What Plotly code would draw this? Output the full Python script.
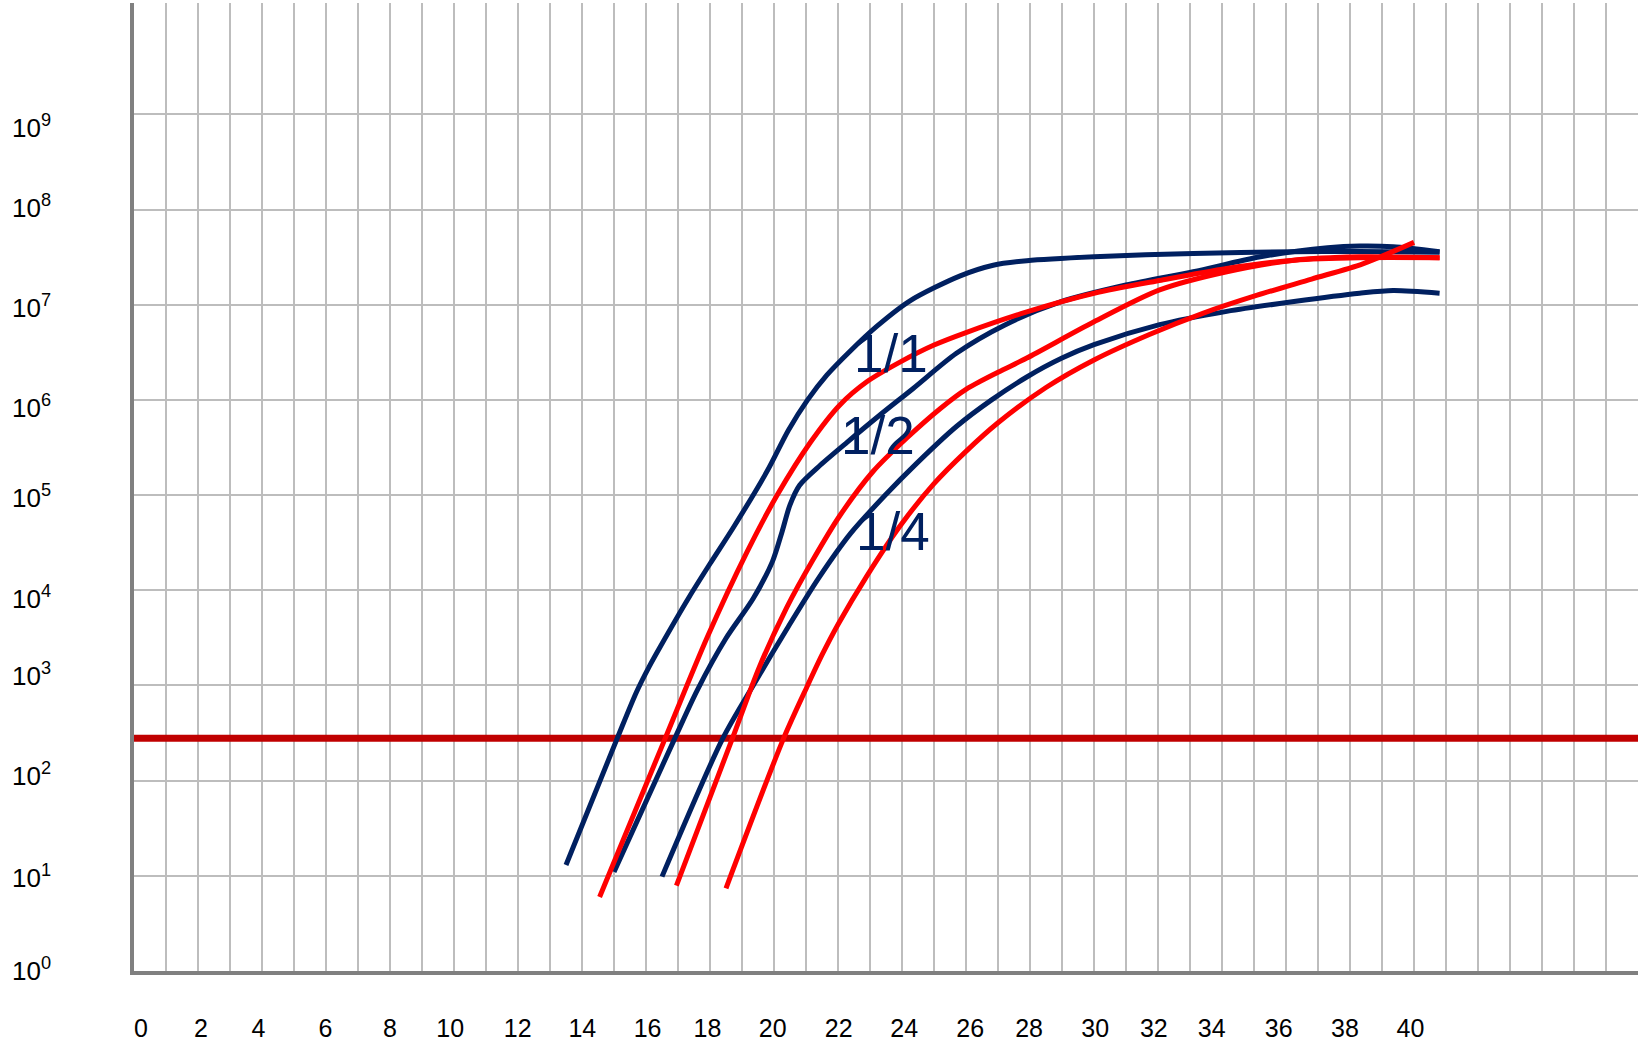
import plotly.graph_objects as go

# ---------------- data (cycle, fluorescence) ----------------
blue_11_x = [13.5, 15.1, 15.7, 16.1, 16.45, 17.35, 18.0, 18.75, 19.8, 20.45, 21.05, 21.65, 22.4, 23.2, 24.25, 25.8, 26.85, 27.9, 30.0, 33.1, 36.2, 38.3, 40.8]
blue_11_y = [13, 278, 850, 1580, 2570, 8510, 1.9e4, 4.68e4, 1.82e5, 4.8e5, 1.0e6, 1.82e6, 3.31e6, 5.89e6, 1.1e7, 2.0e7, 2.6e7, 2.9e7, 3.19e7, 3.46e7, 3.6e7, 3.63e7, 3.55e7]

blue_12_x = [15.0, 16.9, 17.6, 18.5, 19.35, 19.95, 20.25, 20.5, 20.8, 21.45, 22.3, 23.3, 24.35, 25.7, 27.2, 28.95, 31.0, 33.1, 35.2, 37.3, 38.3, 39.35, 40.8]
blue_12_y = [11, 278, 890, 3130, 8200, 2.0e4, 4.1e4, 7.9e4, 1.27e5, 2.07e5, 3.63e5, 6.9e5, 1.32e6, 3.09e6, 6.1e6, 1.07e7, 1.61e7, 2.22e7, 3.19e7, 3.96e7, 4.13e7, 4.06e7, 3.6e7]

blue_14_x = [16.5, 18.4, 19.35, 20.45, 21.4, 22.4, 23.45, 24.45, 25.7, 26.8, 27.9, 29.0, 30.0, 32.05, 34.15, 36.25, 38.3, 39.35, 40.8]
blue_14_y = [9.8, 278, 1000, 4170, 1.35e4, 3.98e4, 9.77e4, 2.14e5, 5.25e5, 1.0e6, 1.74e6, 2.75e6, 3.8e6, 6.17e6, 8.51e6, 1.08e7, 1.32e7, 1.41e7, 1.32e7]

red_11_x = [14.55, 16.6, 17.9, 19.15, 20.1, 21.15, 22.05, 22.9, 23.95, 25.0, 26.0, 27.9, 30.0, 32.1, 34.15, 36.25, 38.3, 40.8]
red_11_y = [6.0, 278, 3130, 2.5e4, 1.0e5, 3.63e5, 8.8e5, 1.55e6, 2.51e6, 3.77e6, 5.1e6, 8.4e6, 1.32e7, 1.81e7, 2.4e7, 2.94e7, 3.12e7, 3.12e7]

red_12_x = [16.95, 18.7, 19.55, 20.4, 21.2, 22.05, 23.1, 24.15, 25.2, 26.0, 27.0, 27.9, 30.0, 32.05, 34.15, 36.25, 38.3, 40.8]
red_12_y = [7.9, 278, 1585, 6610, 2.04e4, 6.03e4, 1.78e5, 3.98e5, 8.13e5, 1.29e6, 1.95e6, 2.75e6, 6.61e6, 1.43e7, 2.22e7, 2.94e7, 3.19e7, 3.12e7]

red_14_x = [18.5, 20.3, 21.05, 21.5, 22.0, 22.9, 23.95, 25.0, 26.0, 27.0, 28.5, 30.0, 31.75, 33.4, 35.1, 36.8, 38.4, 40.0]
red_14_y = [7.4, 278, 1000, 2090, 4370, 1.41e4, 4.79e4, 1.318e5, 2.88e5, 5.75e5, 1.35e6, 2.63e6, 4.9e6, 8.13e6, 1.26e7, 1.86e7, 2.69e7, 4.52e7]

THRESHOLD = 278

x_tick_labels = [str(v) for v in range(0, 41, 2)]
y_tick_labels = ["10<sup>%d</sup>" % k for k in range(0, 10)]
curve_labels = ["1/1", "1/2", "1/4"]

# ---------------- layout / style ----------------
X_RANGE = [0, 47]
Y_RANGE_LOG = [0, 10.17]
x_label_pos = [0.22, 2.09, 3.89, 5.98, 8.0, 9.88, 11.99, 14.01, 16.05, 17.92, 19.96,
               22.02, 24.07, 26.13, 27.97, 30.04, 31.87, 33.68, 35.77, 37.84, 39.89]
y_label_pos_log = [0.0, 0.98, 2.047, 3.098, 3.91, 4.967, 5.912, 6.963, 8.02, 8.856]
label_pos = [(23.66, 6.49), (23.26, 5.63), (23.73, 4.62)]

NAVY = "#002060"
RED = "#FF0000"
THR = "#C00000"
GRID = "#BDBDBD"
AXIS = "#808080"
FONT = "Liberation Sans, Arial, sans-serif"
LW = 5

fig = go.Figure()

fig.add_trace(go.Scatter(x=X_RANGE, y=[THRESHOLD, THRESHOLD], mode="lines",
                         line=dict(color=THR, width=7), hoverinfo="skip"))

for xs, ys in [(blue_11_x, blue_11_y), (blue_12_x, blue_12_y), (blue_14_x, blue_14_y)]:
    fig.add_trace(go.Scatter(x=xs, y=ys, mode="lines",
                             line=dict(color=NAVY, width=LW, shape="spline", smoothing=0.8),
                             hoverinfo="skip"))
for xs, ys in [(red_11_x, red_11_y), (red_12_x, red_12_y), (red_14_x, red_14_y)]:
    fig.add_trace(go.Scatter(x=xs, y=ys, mode="lines",
                             line=dict(color=RED, width=LW, shape="spline", smoothing=0.8),
                             hoverinfo="skip"))

# empty trace to activate the label axes
fig.add_trace(go.Scatter(x=[None], y=[None], xaxis="x2", yaxis="y2", hoverinfo="skip"))

for txt, (lx, ly) in zip(curve_labels, label_pos):
    fig.add_annotation(x=lx, y=ly, xref="x", yref="y", text=txt, showarrow=False,
                       font=dict(family=FONT, size=53, color=NAVY))

fig.update_layout(
    width=1639, height=1043,
    margin=dict(l=134, r=1, t=3, b=72),
    paper_bgcolor="white", plot_bgcolor="white",
    showlegend=False, hovermode=False,
    xaxis=dict(range=X_RANGE, tick0=0, dtick=1, showgrid=True, gridcolor=GRID, gridwidth=2,
               showticklabels=False, ticks="", zeroline=False,
               showline=True, linecolor=AXIS, linewidth=4),
    yaxis=dict(type="log", range=Y_RANGE_LOG, tickvals=[10 ** k for k in range(0, 10)],
               showgrid=True, gridcolor=GRID, gridwidth=2, showticklabels=False, ticks="",
               zeroline=False, showline=True, linecolor=AXIS, linewidth=4),
    xaxis2=dict(overlaying="x", anchor="y2", side="bottom", range=X_RANGE,
                tickvals=x_label_pos, ticktext=x_tick_labels, showgrid=False, zeroline=False,
                showline=False, ticks="", ticklabelstandoff=40,
                tickfont=dict(family=FONT, size=25, color="black")),
    yaxis2=dict(overlaying="y", anchor="x2", side="left", type="log", range=Y_RANGE_LOG,
                tickvals=[10 ** p for p in y_label_pos_log], ticktext=y_tick_labels,
                showgrid=False, zeroline=False, showline=False, ticks="",
                ticklabelstandoff=82,
                tickfont=dict(family=FONT, size=26, color="black")),
)

fig.write_html("out.html", config={"displayModeBar": False},
               post_script="document.body.style.margin='0';document.body.style.overflow='hidden';")
